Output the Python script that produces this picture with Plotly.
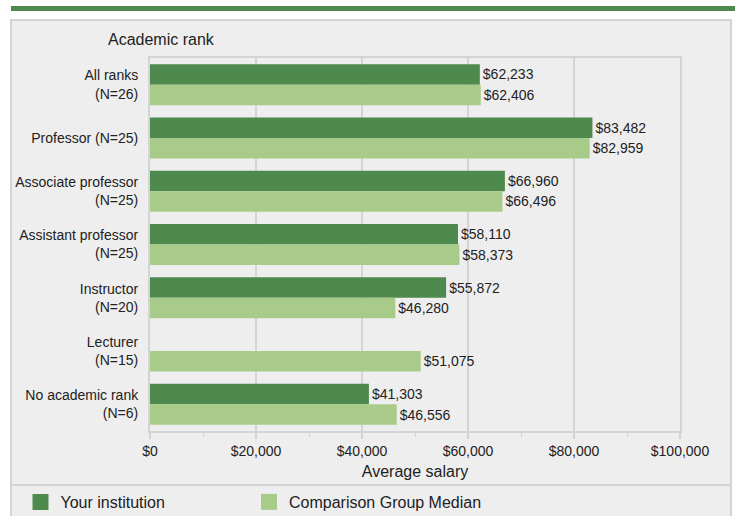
import plotly.graph_objects as go

categories = ["All ranks<br>(N=26)", "Professor (N=25)", "Associate professor<br>(N=25)",
              "Assistant professor<br>(N=25)", "Instructor<br>(N=20)", "Lecturer<br>(N=15)",
              "No academic rank<br>(N=6)"]
your_institution = [62233, 83482, 66960, 58110, 55872, None, 41303]
comparison_median = [62406, 82959, 66496, 58373, 46280, 51075, 46556]
series_names = ["Your institution", "Comparison Group Median"]
tick_values = [0, 20000, 40000, 60000, 80000, 100000]

DARK = "#4e8a4e"
LIGHT = "#a9cb89"
BG = "#eeeeee"
LINE = "#d4d4d4"
TXT = "#222222"
FONT = "Liberation Sans, Arial, sans-serif"

W, H = 735, 516
L, R, T, B = 150, 680, 58, 431


def px(x):
    return (x - L) / (R - L)


def py(y):
    return (B - y) / (B - T)


def fmt(v):
    return "" if v is None else "${:,}".format(v)


fig = go.Figure()
fig.add_trace(go.Bar(
    y=categories, x=your_institution, orientation="h", name=series_names[0],
    marker=dict(color=DARK, line=dict(width=0)),
    text=[fmt(v) for v in your_institution], textposition="outside",
    textfont=dict(size=14, color=TXT, family=FONT), constraintext="none",
    cliponaxis=False, showlegend=False, hoverinfo="x+y"))
fig.add_trace(go.Bar(
    y=categories, x=comparison_median, orientation="h", name=series_names[1],
    marker=dict(color=LIGHT, line=dict(width=0)),
    text=[fmt(v) for v in comparison_median], textposition="outside",
    textfont=dict(size=14, color=TXT, family=FONT), constraintext="none",
    cliponaxis=False, showlegend=False, hoverinfo="x+y"))

for name, col, lg in zip(series_names, [DARK, LIGHT], ["legend", "legend2"]):
    fig.add_trace(go.Scatter(x=[None], y=[None], mode="markers", name=name,
                             marker=dict(symbol="square", size=16, color=col),
                             showlegend=True, legend=lg))

shapes = [
    dict(type="rect", xref="paper", yref="paper", x0=px(11), x1=px(731), y0=py(20), y1=py(530),
         fillcolor=BG, line=dict(color=LINE, width=2), layer="below"),
    dict(type="rect", xref="paper", yref="paper", x0=px(11), x1=px(740), y0=py(6), y1=py(11),
         fillcolor=DARK, line=dict(width=0), layer="below"),
    dict(type="line", xref="paper", yref="paper", x0=px(11), x1=px(731), y0=py(485), y1=py(485),
         line=dict(color=LINE, width=2), layer="below"),
]

legend_style = dict(orientation="h", xanchor="left", yanchor="middle",
                    font=dict(size=16, color=TXT, family=FONT), bgcolor="rgba(0,0,0,0)")

fig.update_layout(
    width=W, height=H,
    margin=dict(l=L, r=W - R, t=T, b=H - B, pad=0, autoexpand=False),
    paper_bgcolor="white", plot_bgcolor="rgba(0,0,0,0)",
    barmode="group", bargap=0.23, bargroupgap=0,
    font=dict(family=FONT, size=14, color=TXT),
    shapes=shapes,
    showlegend=True,
    legend=dict(x=px(20.5), y=py(502), **legend_style),
    legend2=dict(x=px(249), y=py(502), **legend_style),
    annotations=[dict(text="Academic rank", xref="paper", yref="paper", x=px(106), y=py(40),
                      xanchor="left", yanchor="middle", showarrow=False,
                      font=dict(size=16, color=TXT, family=FONT))],
)
fig.update_xaxes(range=[0, 100000], tickvals=tick_values, tickformat="$,.0f",
                 showgrid=True, gridcolor=LINE, gridwidth=2,
                 showline=True, linecolor=LINE, linewidth=2, mirror=True,
                 ticks="outside", ticklen=6, tickcolor=LINE, tickwidth=2,
                 minor=dict(dtick=10000, ticks="outside", ticklen=4, tickcolor=LINE, tickwidth=1, showgrid=False),
                 tickfont=dict(size=14, color=TXT), zeroline=False, automargin=False,
                 title=dict(text="Average salary", font=dict(size=16, color=TXT), standoff=8))
fig.update_yaxes(autorange="reversed", showgrid=False, showline=True, linecolor=LINE, linewidth=2,
                 mirror=True, ticks="", tickfont=dict(size=14, color=TXT), ticklabelstandoff=7,
                 automargin=False)

fig.write_html("out.html", config={"displayModeBar": False},
               post_script="document.body.style.margin='0';document.body.style.overflow='hidden';")
